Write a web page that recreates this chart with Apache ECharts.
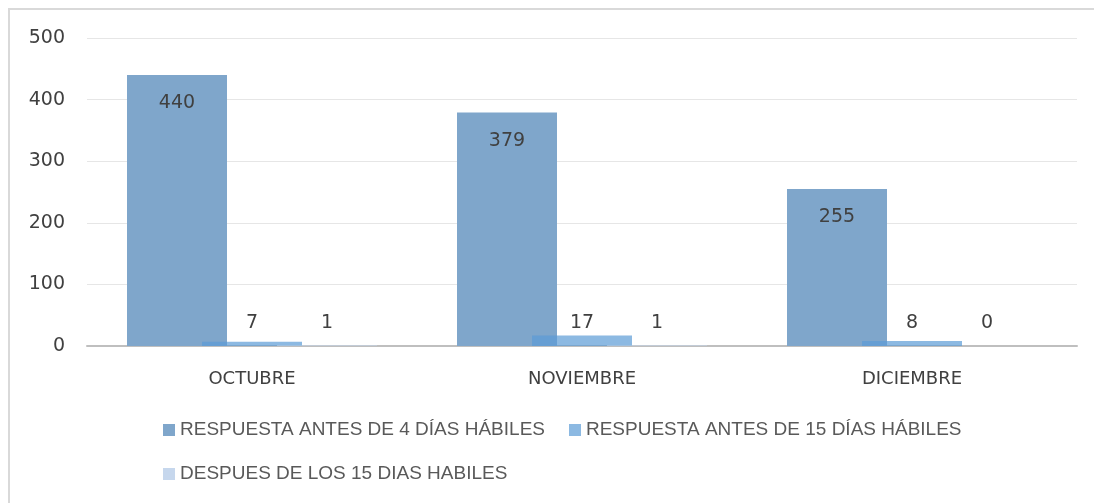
<!DOCTYPE html>
<html lang="es">
<head>
<meta charset="UTF-8">
<title>Respuestas</title>
<script src="https://cdn.jsdelivr.net/npm/echarts@6/dist/echarts.min.js"></script>
<style>
  body { margin: 0; background: #fff; overflow: hidden; }
  .edge { position: absolute; background: #d9d9d9; }
  #main { position: absolute; left: 0; top: 0; width: 1094px; height: 503px; }
</style>
</head>
<body>
<!-- chart area outline: only top and left edges show in the picture -->
<div class="edge" style="left:8px; top:8px; width:1086px; height:2px;"></div>
<div class="edge" style="left:8px; top:8px; width:2px; height:495px;"></div>
<div id="main"></div>
<script>
  // data
  const months = ['OCTUBRE', 'NOVIEMBRE', 'DICIEMBRE'];
  const antes4 = [440, 379, 255];
  const antes15 = [7, 17, 8];
  const despues15 = [1, 1, 0];
  const seriesNames = ['RESPUESTA ANTES DE 4 DÍAS HÁBILES', 'RESPUESTA ANTES DE 15 DÍAS HÁBILES', 'DESPUES DE LOS 15 DIAS HABILES'];
  const colors = ['#7fa6cb', 'rgba(91,155,213,0.7)', '#c6d7ed'];

  const font = 'DejaVu Sans';
  const labelStyle = { color: '#404040', fontSize: 19, fontFamily: font };

  let myChart = echarts.init(document.getElementById('main'));
  myChart.setOption({
    animation: false,
    color: colors,
    grid: { left: 87, right: 17, top: 38, bottom: 157 },
    legend: {
      left: 158, top: 415, width: 860,
      itemWidth: 12, itemHeight: 12, itemGap: 24,
      icon: 'rect',
      textStyle: { color: '#595959', fontSize: 19, fontFamily: 'Liberation Sans', lineHeight: 20 },
      data: seriesNames
    },
    xAxis: {
      type: 'category',
      data: months,
      axisLine: { lineStyle: { color: '#bfbfbf', width: 2 } },
      axisTick: { show: false },
      axisLabel: { color: '#404040', fontSize: 18, fontFamily: font, margin: 24 }
    },
    yAxis: {
      type: 'value',
      min: 0, max: 500, interval: 100,
      axisLine: { show: false },
      axisTick: { show: false },
      splitLine: { lineStyle: { color: '#e6e6e6', width: 1 } },
      axisLabel: { color: '#404040', fontSize: 19, fontFamily: font, margin: 22 }
    },
    series: [
      {
        name: seriesNames[0], type: 'bar', data: antes4,
        barWidth: 100, barGap: '-25%',
        label: Object.assign({ show: true, position: 'insideTop', distance: 19 }, labelStyle)
      },
      {
        name: seriesNames[1], type: 'bar', data: antes15,
        barWidth: 100, barGap: '-25%',
        label: Object.assign({ show: true, position: 'insideBottom', distance: 13 }, labelStyle)
      },
      {
        name: seriesNames[2], type: 'bar', data: despues15,
        barWidth: 100, barGap: '-25%',
        label: Object.assign({ show: true, position: 'insideBottom', distance: 13 }, labelStyle)
      }
    ]
  });
</script>
</body>
</html>
